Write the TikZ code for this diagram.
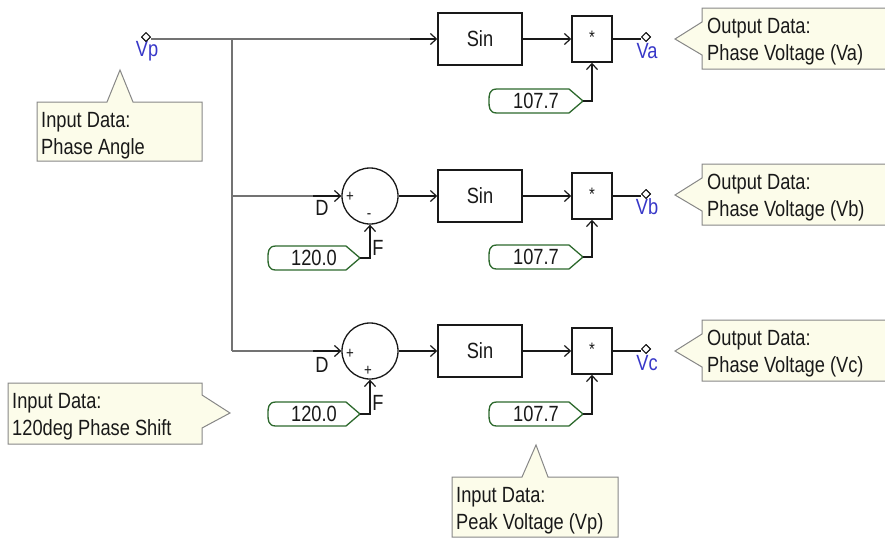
\documentclass[tikz,border=0pt]{standalone}
\usepackage{fontspec}
\newfontfamily\uifont{Liberation Sans}[FakeStretch=0.83]
\usetikzlibrary{arrows.meta,shapes.geometric}
\definecolor{wiregray}{RGB}{115,115,115}
\definecolor{ink}{RGB}{25,25,25}
\definecolor{cgreen}{RGB}{45,105,45}
\definecolor{calfill}{RGB}{252,252,234}
\definecolor{calline}{RGB}{135,135,135}
\definecolor{lblue}{RGB}{55,55,200}
\newcommand\konst[5]{% name, left x, tip x, y, text
  \draw[constshape] (#2+8,#4-12) -- (#3-14,#4-12) -- (#3,#4) -- (#3-14,#4+12) -- (#2+8,#4+12)
     .. controls (#2,#4+12) and (#2,#4+6) .. (#2,#4)
     .. controls (#2,#4-6) and (#2,#4-12) .. (#2+8,#4-12) -- cycle;
  \node[txt] (#1) at ({(#2+#3)/2},#4) {#5};
  \coordinate (#1-tip) at (#3,#4);
}
\newcommand\outcall[3]{% y, name, label
  \draw[callout] (702,#1-31) -- (900,#1-31) -- (900,#1+30) -- (702,#1+30) -- (702,#1+16) -- (675,#1) -- (702,#1-17) -- cycle;
  \node[txt, anchor=base west] (#2a) at (707,#1-6) {Output Data:};
  \node[txt, anchor=base west] (#2b) at (707,#1+21) {Phase Voltage (#3)};
}
\begin{document}
\begin{tikzpicture}[x=1pt,y=-1pt,
  txt/.style={font=\uifont\fontsize{22}{27}\selectfont, inner sep=0pt, text=ink},
  small/.style={font=\uifont\fontsize{16}{16}\selectfont, inner sep=0pt, text=ink},
  wire/.style={draw=wiregray, line width=1.4pt},
  stub/.style={draw=ink, line width=1.4pt},
  arr/.style={stub, -{Straight Barb[length=6pt,width=11pt,line width=1.2pt]}},
  blockbox/.style={draw=ink, line width=1.5pt, rectangle, minimum width=84pt, minimum height=52pt, inner sep=0pt, font=\uifont\fontsize{22}{27}\selectfont, text=ink},
  multbox/.style={draw=ink, line width=1.5pt, rectangle, minimum width=40pt, minimum height=46pt, inner sep=0pt},
  sumc/.style={draw=ink, circle, line width=1.3pt, minimum size=56pt, inner sep=0pt},
  term/.style={draw=ink, diamond, minimum size=9pt, inner sep=0pt, line width=1pt, fill=white},
  callout/.style={draw=calline, fill=calfill, line width=1pt},
  constshape/.style={draw=cgreen, line width=1.3pt, fill=white},
  lbl/.style={font=\uifont\fontsize{22}{27}\selectfont, text=lblue, inner sep=0pt}
]
\useasboundingbox (0,0) rectangle (885,539);
\clip (0,0) rectangle (885,539);

% ---------- blocks ----------
\node[blockbox] (sin1) at (480,39) {Sin};
\node[blockbox] (sin2) at (480,196) {Sin};
\node[blockbox] (sin3) at (480,351) {Sin};
\node[multbox] (mul1) at (592,39) {};
\node[multbox] (mul2) at (592,196) {};
\node[multbox] (mul3) at (592,351) {};
\node[small, font=\uifont\fontsize{18}{18}\selectfont] (ast1) at (592,37) {*};
\node[small, font=\uifont\fontsize{18}{18}\selectfont] (ast2) at (592,194) {*};
\node[small, font=\uifont\fontsize{18}{18}\selectfont] (ast3) at (592,349) {*};
\node[sumc] (sum2) at (370,196) {};
\node[sumc] (sum3) at (370,351) {};

% signs and port labels
\node[small] (p2a) at (350,197) {+};
\node[small] (p2b) at (369,216) {-};
\node[small] (p3a) at (350,354) {+};
\node[small] (p3b) at (368,371) {+};
\node[txt] (D2) at (322,208) {D};
\node[txt] (D3) at (322,365) {D};
\node[txt] (F2) at (378,248) {F};
\node[txt] (F3) at (378,403) {F};

% terminals
\node[term] (vp) at (146,37) {};
\node[lbl] (vplbl) at (147,51) {Vp};
\node[term] (ta) at (646,37) {};
\node[lbl] (talbl) at (647,51) {Va};
\node[term] (tb) at (646,194) {};
\node[lbl] (tblbl) at (647,207) {Vb};
\node[term] (tc) at (646,349) {};
\node[lbl] (tclbl) at (647,363) {Vc};

% constants
\konst{k1}{489}{583}{101}{107.7}
\konst{k2}{489}{583}{257}{107.7}
\konst{k3}{489}{583}{414}{107.7}
\konst{c2}{268}{360}{258}{120.0}
\konst{c3}{268}{360}{414}{120.0}

% ---------- wires ----------
\coordinate (s1) at (410,39);
\coordinate (j1) at (232,39);
\coordinate (j2) at (232,196);
\coordinate (j3) at (232,351);
\coordinate (d2) at (313,196);
\coordinate (d3) at (313,351);
\draw[wire] (vp.east |- s1) -- (s1);
\draw[wire] (j1) -- (j3);
\draw[wire] (j2) -- (d2);
\draw[wire] (j3) -- (d3);
\draw[arr] (s1) -- (sin1.west);
\draw[arr] (d2) -- (sum2.west);
\draw[arr] (d3) -- (sum3.west);
\draw[arr] (sum2.east) -- (sin2.west);
\draw[arr] (sum3.east) -- (sin3.west);
\draw[arr] (sin1.east) -- (mul1.west);
\draw[arr] (sin2.east) -- (mul2.west);
\draw[arr] (sin3.east) -- (mul3.west);
\draw[stub] (mul1.east) -- (ta.west |- mul1.east);
\draw[stub] (mul2.east) -- (tb.west |- mul2.east);
\draw[stub] (mul3.east) -- (tc.west |- mul3.east);
\draw[arr] (k1-tip) -| (mul1.south);
\draw[arr] (k2-tip) -| (mul2.south);
\draw[arr] (k3-tip) -| (mul3.south);
\draw[arr] (c2-tip) -| (sum2.south);
\draw[arr] (c3-tip) -| (sum3.south);
\node[term] (vpb) at (146,37) {};
\node[term] (tab) at (646,37) {};
\node[term] (tbb) at (646,194) {};
\node[term] (tcb) at (646,349) {};

% ---------- callouts ----------
\draw[callout] (37,102) -- (107,102) -- (120,70) -- (133,102) -- (202,102) -- (202,161) -- (37,161) -- cycle;
\node[txt, anchor=base west] (ina1) at (41,127) {Input Data:};
\node[txt, anchor=base west] (ina2) at (41,154) {Phase Angle};

\draw[callout] (8,383) -- (202,383) -- (202,395) -- (230,413) -- (202,428) -- (202,444) -- (8,444) -- cycle;
\node[txt, anchor=base west] (inb1) at (12,408) {Input Data:};
\node[txt, anchor=base west] (inb2) at (12,435) {120deg Phase Shift};

\draw[callout] (452,477) -- (522,477) -- (536,445) -- (548,477) -- (618,477) -- (618,537) -- (452,537) -- cycle;
\node[txt, anchor=base west] (inc1) at (456,502) {Input Data:};
\node[txt, anchor=base west] (inc2) at (456,529) {Peak Voltage (Vp)};

\outcall{39}{oa}{Va}
\outcall{195}{ob}{Vb}
\outcall{351}{oc}{Vc}
\end{tikzpicture}
\end{document}
